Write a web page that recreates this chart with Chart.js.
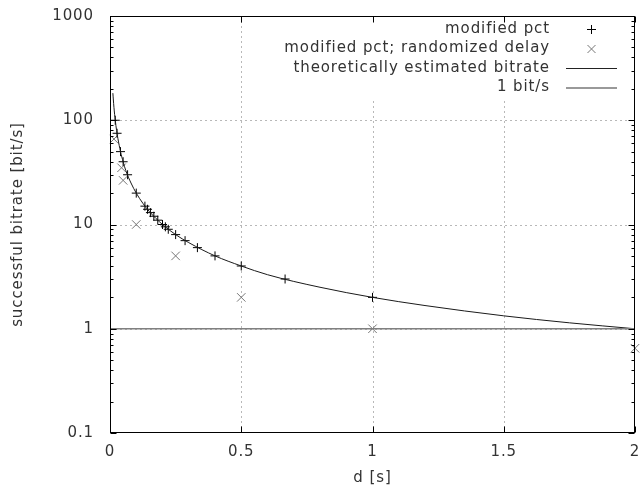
<!DOCTYPE html>
<html>
<head>
<meta charset="utf-8">
<script src="https://cdn.jsdelivr.net/npm/chart.js@4.4.1/dist/chart.umd.min.js"></script>
<style>
  html, body { margin: 0; padding: 0; background: #fff; }
  canvas { display: block; }
</style>
</head>
<body>
<canvas id="c" width="642" height="492"></canvas>
<script>
// ---- data ----
const plusD = [0.02, 0.027, 0.04, 0.05, 0.067, 0.1, 0.133, 0.143, 0.154, 0.167, 0.182, 0.2, 0.211, 0.222, 0.25, 0.286, 0.333, 0.4, 0.5, 0.667, 1.0];
const plusV = [100, 75, 50, 40, 30, 20, 15, 14, 13, 12, 11, 10, 9.5, 9, 8, 7, 6, 5, 4, 3, 2];
const crossD = [0.015, 0.044, 0.05, 0.1, 0.25, 0.5, 1.0, 2.0];
const crossV = [66, 35, 26.5, 10, 5, 2, 1, 0.65];
const curveD = [0.011, 0.0125, 0.015, 0.0175, 0.02, 0.025, 0.03, 0.04, 0.05, 0.06, 0.08, 0.1, 0.125, 0.15, 0.2, 0.25, 0.3, 0.4, 0.5, 0.6, 0.8, 1.0, 1.2, 1.5, 1.75, 2.0];
const curveV = [182, 160, 133, 114, 100, 80, 67, 50, 40, 33, 25, 20, 16, 13.3, 10, 8, 6.7, 5, 4, 3.3, 2.5, 2, 1.67, 1.33, 1.14, 1];
const oneD = [0, 2];
const oneV = [1, 1];
const xTicks = [0, 0.5, 1, 1.5, 2];
const yTicks = [0.1, 1, 10, 100, 1000];
const yTickLabels = ['0.1', '1', '10', '100', '1000'];
const xGrid = [0.5, 1, 1.5];
const yGrid = [1, 10, 100];
const legendLabels = ['modified pct', 'modified pct; randomized delay', 'theoretically estimated bitrate', '1 bit/s'];

const pts = (xs, ys) => xs.map((x, i) => ({x: x, y: ys[i]}));
const FONT = 'DejaVu Sans';
const TXT = '#333';
const SPACING = '0.9px';

const framePlugin = {
  id: 'frame',
  beforeDraw(chart) {
    chart.ctx.letterSpacing = SPACING;
  },
  beforeDatasetsDraw(chart) {
    const {ctx, chartArea: a, scales: {x, y}} = chart;
    ctx.save();
    ctx.strokeStyle = '#b8b8b8';
    ctx.lineWidth = 1;
    ctx.setLineDash([2, 3]);
    xGrid.forEach(v => {
      const px = Math.round(x.getPixelForValue(v)) + 0.5;
      ctx.beginPath(); ctx.moveTo(px, a.top); ctx.lineTo(px, a.bottom); ctx.stroke();
    });
    yGrid.forEach(v => {
      const py = Math.round(y.getPixelForValue(v)) + 0.5;
      ctx.beginPath(); ctx.moveTo(a.left, py); ctx.lineTo(a.right, py); ctx.stroke();
    });
    ctx.restore();
  },
  afterDatasetsDraw(chart) {
    const {ctx, chartArea: a, scales: {x, y}} = chart;
    ctx.save();
    // opaque key area
    ctx.fillStyle = '#fff';
    ctx.fillRect(288, a.top + 1, 336, 82);
    // frame
    ctx.strokeStyle = '#000';
    ctx.lineWidth = 1;
    const L = Math.round(a.left) + 0.5, R = Math.round(a.right) - 0.5;
    const T = Math.round(a.top) + 0.5, B = Math.round(a.bottom) - 0.5;
    ctx.strokeRect(L, T, R - L, B - T);
    // ticks
    ctx.beginPath();
    xTicks.forEach(v => {
      const px = Math.round(x.getPixelForValue(v)) + 0.5;
      ctx.moveTo(px, B); ctx.lineTo(px, B - 6);
      ctx.moveTo(px, T); ctx.lineTo(px, T + 6);
    });
    for (let e = -1; e < 3; e++) {
      for (let m = 1; m <= 9; m++) {
        const v = m * Math.pow(10, e);
        const py = Math.round(y.getPixelForValue(v)) + 0.5;
        const len = m === 1 ? 6 : 3;
        ctx.moveTo(L, py); ctx.lineTo(L + len, py);
        ctx.moveTo(R, py); ctx.lineTo(R - len, py);
      }
    }
    ctx.stroke();
    // legend
    ctx.letterSpacing = SPACING;
    ctx.font = '15px "' + FONT + '"';
    ctx.fillStyle = TXT;
    ctx.textAlign = 'right';
    ctx.textBaseline = 'middle';
    const rows = [29, 48.5, 68, 87.5];
    legendLabels.forEach((t, i) => ctx.fillText(t, 550, rows[i]));
    // samples
    ctx.lineWidth = 1;
    ctx.strokeStyle = '#000';
    ctx.beginPath();
    ctx.moveTo(587, 29.5); ctx.lineTo(596, 29.5);
    ctx.moveTo(591.5, 25); ctx.lineTo(591.5, 34);
    ctx.stroke();
    ctx.strokeStyle = '#777';
    ctx.beginPath();
    ctx.moveTo(587.5, 45); ctx.lineTo(595.5, 53);
    ctx.moveTo(595.5, 45); ctx.lineTo(587.5, 53);
    ctx.stroke();
    ctx.strokeStyle = '#222';
    ctx.beginPath(); ctx.moveTo(566, 68.5); ctx.lineTo(617, 68.5); ctx.stroke();
    ctx.strokeStyle = '#777';
    ctx.lineWidth = 1.5;
    ctx.beginPath(); ctx.moveTo(566, 88); ctx.lineTo(617, 88); ctx.stroke();
    ctx.restore();
  }
};

new Chart(document.getElementById('c'), {
  type: 'scatter',
  data: {
    datasets: [
      {
        label: legendLabels[0], data: pts(plusD, plusV), pointStyle: 'cross',
        pointRadius: 4.5, pointBorderColor: '#000', pointBorderWidth: 1, showLine: false, clip: false, order: 3
      },
      {
        label: legendLabels[1], data: pts(crossD, crossV), pointStyle: 'crossRot',
        pointRadius: 6, pointBorderColor: '#777', pointBorderWidth: 1, showLine: false, clip: false, order: 4
      },
      {
        label: legendLabels[2], type: 'line', data: pts(curveD, curveV), borderColor: '#1a1a1a',
        borderWidth: 1, pointRadius: 0, cubicInterpolationMode: 'monotone', fill: false, order: 2
      },
      {
        label: legendLabels[3], type: 'line', data: pts(oneD, oneV), borderColor: '#808080',
        borderWidth: 1.5, pointRadius: 0, fill: false, order: 1
      }
    ]
  },
  options: {
    responsive: false,
    animation: false,
    events: [],
    layout: { padding: { left: 0, top: 16, right: 3, bottom: 2 } },
    plugins: { legend: { display: false }, tooltip: { enabled: false } },
    scales: {
      x: {
        type: 'linear', min: 0, max: 2,
        afterBuildTicks: s => { s.ticks = xTicks.map(v => ({value: v})); },
        afterFit: s => { s.height = 57; s.paddingLeft = 0; s.paddingRight = 0; },
        grid: { display: false, drawTicks: false },
        border: { display: false },
        ticks: { color: TXT, font: { family: FONT, size: 15 }, padding: 10, maxRotation: 0, autoSkip: false,
                 callback: v => String(v) },
        title: { display: true, text: 'd [s]', color: TXT, font: { family: FONT, size: 15 }, padding: { bottom: 3 } }
      },
      y: {
        type: 'logarithmic', min: 0.1, max: 1000,
        afterBuildTicks: s => { s.ticks = yTicks.map(v => ({value: v})); },
        afterFit: s => { s.width = 110; s.paddingTop = 0; s.paddingBottom = 0; },
        grid: { display: false, drawTicks: false },
        border: { display: false },
        ticks: { color: TXT, font: { family: FONT, size: 15 }, padding: 16, autoSkip: false,
                 callback: (v, i) => yTickLabels[yTicks.indexOf(v)] ?? '' },
        title: { display: true, text: 'successful bitrate [bit/s]', color: TXT, font: { family: FONT, size: 15 }, padding: { top: 9 } }
      }
    }
  },
  plugins: [framePlugin]
});
</script>
</body>
</html>
